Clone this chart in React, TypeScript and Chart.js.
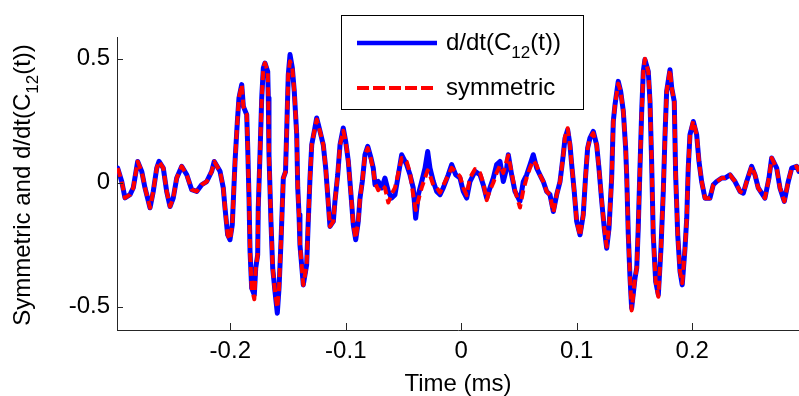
import React, { useEffect, useRef } from "react";
import { Chart, registerables } from "chart.js";

Chart.register(...registerables);

// Time axis (ms)
const timeMs = [
  -0.2975, -0.2940, -0.2912, -0.2868, -0.2840, -0.2802, -0.2767, -0.2739, -0.2695, -0.2667,
  -0.2637, -0.2617, -0.2580, -0.2551, -0.2522, -0.2494, -0.2464, -0.2421, -0.2377, -0.2334,
  -0.2291, -0.2248, -0.2204, -0.2161, -0.2139, -0.2089, -0.2061, -0.2046, -0.2023, -0.2003,
  -0.1983, -0.1974, -0.1959, -0.1939, -0.1925, -0.1901, -0.1887, -0.1858, -0.1849, -0.1838,
  -0.1829, -0.1815, -0.1792, -0.1780, -0.1763, -0.1758, -0.1743, -0.1728, -0.1714, -0.1700,
  -0.1676, -0.1671, -0.1665, -0.1648, -0.1633, -0.1613, -0.1593, -0.1578, -0.1561, -0.1541,
  -0.1522, -0.1509, -0.1498, -0.1483, -0.1463, -0.1446, -0.1425, -0.1416, -0.1405, -0.1397,
  -0.1368, -0.1339, -0.1325, -0.1310, -0.1295, -0.1273, -0.1252, -0.1223, -0.1195, -0.1174,
  -0.1157, -0.1137, -0.1108, -0.1094, -0.1070, -0.1050, -0.1022, -0.1001, -0.0978, -0.0955,
  -0.0935, -0.0914, -0.0892, -0.0877, -0.0857, -0.0834, -0.0810, -0.0782, -0.0762, -0.0747,
  -0.0719, -0.0689, -0.0661, -0.0632, -0.0603, -0.0574, -0.0545, -0.0516, -0.0473, -0.0444,
  -0.0416, -0.0395, -0.0372, -0.0343, -0.0314, -0.0291, -0.0271, -0.0242, -0.0213, -0.0184,
  -0.0156, -0.0113, -0.0083, -0.0048, -0.0011, 0.0017, 0.0047, 0.0075, 0.0119, 0.0162,
  0.0190, 0.0220, 0.0248, 0.0277, 0.0306, 0.0335, 0.0364, 0.0393, 0.0407, 0.0436,
  0.0465, 0.0508, 0.0537, 0.0566, 0.0595, 0.0623, 0.0653, 0.0681, 0.0710, 0.0739,
  0.0768, 0.0797, 0.0826, 0.0855, 0.0883, 0.0898, 0.0921, 0.0941, 0.0956, 0.0978,
  0.0999, 0.1028, 0.1056, 0.1077, 0.1094, 0.1114, 0.1143, 0.1172, 0.1192, 0.1216,
  0.1238, 0.1259, 0.1279, 0.1302, 0.1316, 0.1331, 0.1359, 0.1380, 0.1403, 0.1423,
  0.1432, 0.1446, 0.1461, 0.1475, 0.1504, 0.1519, 0.1532, 0.1547, 0.1562, 0.1576,
  0.1590, 0.1619, 0.1634, 0.1648, 0.1662, 0.1683, 0.1706, 0.1729, 0.1749, 0.1764,
  0.1778, 0.1807, 0.1822, 0.1844, 0.1856, 0.1874, 0.1894, 0.1913, 0.1937, 0.1952,
  0.1965, 0.1980, 0.2009, 0.2038, 0.2058, 0.2081, 0.2110, 0.2153, 0.2182, 0.2211,
  0.2255, 0.2283, 0.2326, 0.2370, 0.2413, 0.2442, 0.2471, 0.2514, 0.2543, 0.2571,
  0.2629, 0.2664, 0.2687, 0.2731, 0.2759, 0.2797, 0.2831, 0.2861, 0.2904, 0.2924,
];

// d/dt(C12(t))
const dC12 = [
  0.059, 0.005, -0.061, -0.048, -0.020, 0.086, 0.046, -0.020, -0.101, -0.035,
  0.059, 0.086, 0.059, -0.035, -0.096, -0.062, 0.019, 0.066, 0.032, -0.028,
  -0.035, -0.008, 0.005, 0.046, 0.086, 0.046, -0.020, -0.101, -0.210, -0.230,
  -0.170, -0.075, 0.086, 0.247, 0.342, 0.396, 0.308, 0.275, 0.141, -0.061,
  -0.277, -0.425, -0.452, -0.344, -0.291, -0.102, 0.113, 0.342, 0.463, 0.483,
  0.449, 0.342, 0.113, -0.156, -0.344, -0.439, -0.526, -0.425, -0.237, 0.019,
  0.044, 0.254, 0.436, 0.517, 0.463, 0.369, 0.194, -0.021, -0.129, -0.250,
  -0.412, -0.331, -0.156, 0.019, 0.153, 0.207, 0.261, 0.207, 0.153, 0.059,
  -0.048, -0.176, -0.156, -0.075, 0.032, 0.153, 0.221, 0.167, 0.086, -0.048,
  -0.170, -0.230, -0.156, -0.062, 0.005, 0.113, 0.147, 0.100, 0.059, -0.008,
  0.005, -0.021, 0.019, -0.035, -0.062, -0.048, 0.032, 0.113, 0.073, 0.032,
  -0.021, -0.143, -0.048, 0.005, 0.059, 0.126, 0.059, 0.005, -0.035, -0.048,
  -0.021, 0.032, 0.073, 0.032, 0.019, -0.035, -0.062, 0.005, 0.046, 0.032,
  -0.008, -0.062, -0.021, 0.019, 0.073, 0.086, 0.005, 0.059, 0.113, 0.032,
  -0.035, -0.075, 0.005, 0.032, 0.073, 0.113, 0.059, 0.032, 0.005, -0.035,
  -0.048, -0.116, -0.048, 0.005, 0.113, 0.180, 0.214, 0.153, 0.073, -0.035,
  -0.156, -0.210, -0.129, 0.032, 0.140, 0.180, 0.207, 0.153, 0.059, -0.075,
  -0.183, -0.264, -0.183, 0.019, 0.247, 0.315, 0.409, 0.369, 0.288, 0.140,
  0.032, -0.210, -0.385, -0.506, -0.385, -0.344, -0.183, 0.059, 0.288, 0.449,
  0.497, 0.449, 0.328, 0.086, -0.210, -0.398, -0.452, -0.264, -0.035, 0.194,
  0.369, 0.456, 0.382, 0.328, 0.032, -0.210, -0.358, -0.412, -0.264, -0.143,
  0.059, 0.194, 0.247, 0.194, 0.086, 0.005, -0.062, -0.062, -0.008, 0.005,
  0.019, 0.019, 0.032, 0.005, -0.035, -0.042, 0.005, 0.066, 0.032, -0.021,
  -0.062, 0.019, 0.100, 0.059, -0.021, -0.075, 0.005, 0.059, 0.066, 0.046,
];

// symmetric
const symmetric = [
  0.059, 0.005, -0.061, -0.048, -0.020, 0.086, 0.046, -0.020, -0.101, -0.035,
  0.059, 0.086, 0.059, -0.035, -0.096, -0.062, 0.019, 0.066, 0.032, -0.028,
  -0.035, -0.008, 0.005, 0.046, 0.086, 0.046, -0.020, -0.101, -0.210, -0.230,
  -0.170, -0.075, 0.086, 0.247, 0.342, 0.396, 0.308, 0.275, 0.141, -0.061,
  -0.277, -0.425, -0.470, -0.344, -0.291, -0.102, 0.113, 0.342, 0.463, 0.483,
  0.449, 0.342, 0.113, -0.156, -0.344, -0.439, -0.505, -0.425, -0.237, 0.019,
  0.044, 0.254, 0.436, 0.490, 0.463, 0.369, 0.194, -0.021, -0.129, -0.250,
  -0.412, -0.331, -0.156, 0.019, 0.153, 0.207, 0.255, 0.207, 0.153, 0.059,
  -0.048, -0.176, -0.156, -0.075, 0.032, 0.153, 0.210, 0.167, 0.086, -0.048,
  -0.170, -0.225, -0.156, -0.062, 0.005, 0.113, 0.140, 0.095, 0.050, 0.000,
  -0.030, -0.010, -0.020, -0.080, -0.045, -0.020, 0.040, 0.100, 0.085, 0.040,
  -0.050, -0.110, -0.070, -0.020, 0.020, 0.050, 0.030, -0.010, -0.020, -0.040,
  -0.010, 0.030, 0.060, 0.045, 0.025, -0.020, -0.050, 0.020, 0.055, 0.040,
  0.000, -0.070, -0.030, 0.000, 0.040, 0.070, 0.040, 0.090, 0.110, 0.040,
  -0.030, -0.100, -0.030, 0.020, 0.060, 0.090, 0.070, 0.032, 0.005, -0.035,
  -0.048, -0.120, -0.048, 0.005, 0.113, 0.185, 0.220, 0.153, 0.073, -0.035,
  -0.156, -0.215, -0.129, 0.032, 0.140, 0.180, 0.200, 0.153, 0.059, -0.075,
  -0.183, -0.258, -0.183, 0.019, 0.247, 0.315, 0.400, 0.369, 0.288, 0.140,
  0.032, -0.210, -0.385, -0.515, -0.385, -0.344, -0.183, 0.059, 0.288, 0.449,
  0.500, 0.449, 0.328, 0.086, -0.210, -0.398, -0.460, -0.264, -0.035, 0.194,
  0.369, 0.456, 0.382, 0.328, 0.032, -0.210, -0.358, -0.405, -0.264, -0.143,
  0.059, 0.194, 0.250, 0.194, 0.086, 0.005, -0.062, -0.062, -0.008, 0.005,
  0.019, 0.019, 0.032, 0.005, -0.035, -0.042, 0.005, 0.066, 0.032, -0.021,
  -0.062, 0.019, 0.100, 0.059, -0.021, -0.075, 0.005, 0.059, 0.066, 0.046,
];

const xTicks = [-0.2, -0.1, 0, 0.1, 0.2];
const yTicks = [-0.5, 0, 0.5];
const xLimits = [-0.2981, 0.2924];
const yLimits = [-0.594, 0.588];
const xTitle = "Time (ms)";
const yTitleParts = ["Symmetric and d/dt(C", "12", "(t))"];
const legendBlueParts = ["d/dt(C", "12", "(t))"];
const legendRed = "symmetric";

const FONT = '"Liberation Sans", Arial, Helvetica, sans-serif';
const BLUE = "#0000ff";
const RED = "#ff0000";
const AXIS = "#262626";

function drawParts(ctx: CanvasRenderingContext2D, parts: string[], x: number, y: number, size: number, subSize: number, subDy: number, center: boolean) {
  const widths = parts.map((p, i) => {
    ctx.font = `${i === 1 ? subSize : size}px ${FONT}`;
    return ctx.measureText(p).width;
  });
  const total = widths.reduce((a, b) => a + b, 0);
  let cx = center ? x - total / 2 : x;
  parts.forEach((p, i) => {
    ctx.font = `${i === 1 ? subSize : size}px ${FONT}`;
    ctx.fillText(p, cx, y + (i === 1 ? subDy : 0));
    cx += widths[i];
  });
}

export default function App() {
  const ref = useRef<HTMLCanvasElement>(null);
  useEffect(() => {
    const canvas = ref.current;
    if (!canvas) return;
    const decor = {
      id: "decor",
      afterDraw(chart: any) {
        const ctx: CanvasRenderingContext2D = chart.ctx;
        const { left, bottom } = chart.chartArea;
        const xs = chart.scales.x;
        const ys = chart.scales.y;
        ctx.save();
        // inward tick marks
        ctx.strokeStyle = AXIS;
        ctx.lineWidth = 1;
        ctx.beginPath();
        xTicks.forEach((v) => {
          const px = Math.round(xs.getPixelForValue(v)) + 0.5;
          ctx.moveTo(px, bottom);
          ctx.lineTo(px, bottom - 7);
        });
        yTicks.forEach((v) => {
          const py = Math.round(ys.getPixelForValue(v)) + 0.5;
          ctx.moveTo(left, py);
          ctx.lineTo(left + 6, py);
        });
        ctx.stroke();

        // y-axis title with subscript
        ctx.fillStyle = "#000";
        ctx.textBaseline = "alphabetic";
        ctx.textAlign = "left";
        ctx.save();
        ctx.translate(30, 185);
        ctx.rotate(-Math.PI / 2);
        drawParts(ctx, yTitleParts, 0, 0, 24, 17, 8, true);
        ctx.restore();

        // legend
        const bx = 341.5, by = 15.5, bw = 242, bh = 94;
        ctx.fillStyle = "#fff";
        ctx.fillRect(bx, by, bw, bh);
        ctx.strokeStyle = "#000";
        ctx.lineWidth = 1;
        ctx.strokeRect(bx, by, bw, bh);
        ctx.lineWidth = 4.5;
        ctx.strokeStyle = BLUE;
        ctx.beginPath();
        ctx.moveTo(357, 43);
        ctx.lineTo(437, 43);
        ctx.stroke();
        ctx.lineWidth = 4;
        ctx.strokeStyle = RED;
        ctx.setLineDash([12, 4]);
        ctx.beginPath();
        ctx.moveTo(357, 88);
        ctx.lineTo(437, 88);
        ctx.stroke();
        ctx.setLineDash([]);
        ctx.fillStyle = "#000";
        drawParts(ctx, legendBlueParts, 446, 50, 24, 17, 8, false);
        ctx.font = `24px ${FONT}`;
        ctx.fillText(legendRed, 446, 95);
        ctx.restore();
      },
    };

    const chart = new Chart(canvas, {
      type: "line",
      data: {
        datasets: [
          {
            label: "d/dt(C12(t))",
            data: timeMs.map((t, i) => ({ x: t, y: dC12[i] })),
            borderColor: BLUE,
            borderWidth: 5,
            borderJoinStyle: "round",
            borderCapStyle: "round",
            pointRadius: 0,
            tension: 0,
            fill: false,
            order: 2,
          },
          {
            label: "symmetric",
            data: timeMs.map((t, i) => ({ x: t, y: symmetric[i] })),
            borderColor: RED,
            borderWidth: 4,
            borderDash: [9, 5],
            borderJoinStyle: "round",
            borderCapStyle: "butt",
            pointRadius: 0,
            tension: 0,
            fill: false,
            order: 1,
          },
        ],
      },
      options: {
        responsive: false,
        animation: false,
        devicePixelRatio: 1,
        layout: { padding: { left: 0, right: 0, top: 37, bottom: 0 } },
        plugins: { legend: { display: false }, tooltip: { enabled: false } },
        scales: {
          x: {
            type: "linear",
            min: xLimits[0],
            max: xLimits[1],
            afterBuildTicks: (s: any) => {
              s.ticks = xTicks.map((v) => ({ value: v }));
            },
            afterFit: (s: any) => {
              s.height = 66;
            },
            grid: { display: false, drawTicks: false },
            border: { display: true, color: AXIS, width: 1 },
            ticks: {
              padding: 7,
              color: "#000",
              font: { family: FONT, size: 24 },
              maxRotation: 0,
              autoSkip: false,
              callback: (v: any) => String(Number(v)),
            },
            title: {
              display: true,
              text: xTitle,
              color: "#000",
              font: { family: FONT, size: 24, lineHeight: 1 },
              padding: 0,
            },
          },
          y: {
            type: "linear",
            min: yLimits[0],
            max: yLimits[1],
            afterBuildTicks: (s: any) => {
              s.ticks = yTicks.map((v) => ({ value: v }));
            },
            afterFit: (s: any) => {
              s.width = 117;
            },
            grid: { display: false, drawTicks: false },
            border: { display: true, color: AXIS, width: 1 },
            ticks: {
              padding: 7,
              color: "#000",
              font: { family: FONT, size: 24 },
              autoSkip: false,
              callback: (v: any) => String(Number(v)),
            },
          },
        },
      },
      plugins: [decor],
    });
    return () => chart.destroy();
  }, []);

  return (
    <div style={{ position: "absolute", left: 0, top: 0, width: 799, height: 396, background: "#fff" }}>
      <canvas ref={ref} width={799} height={396} style={{ display: "block" }} />
    </div>
  );
}
